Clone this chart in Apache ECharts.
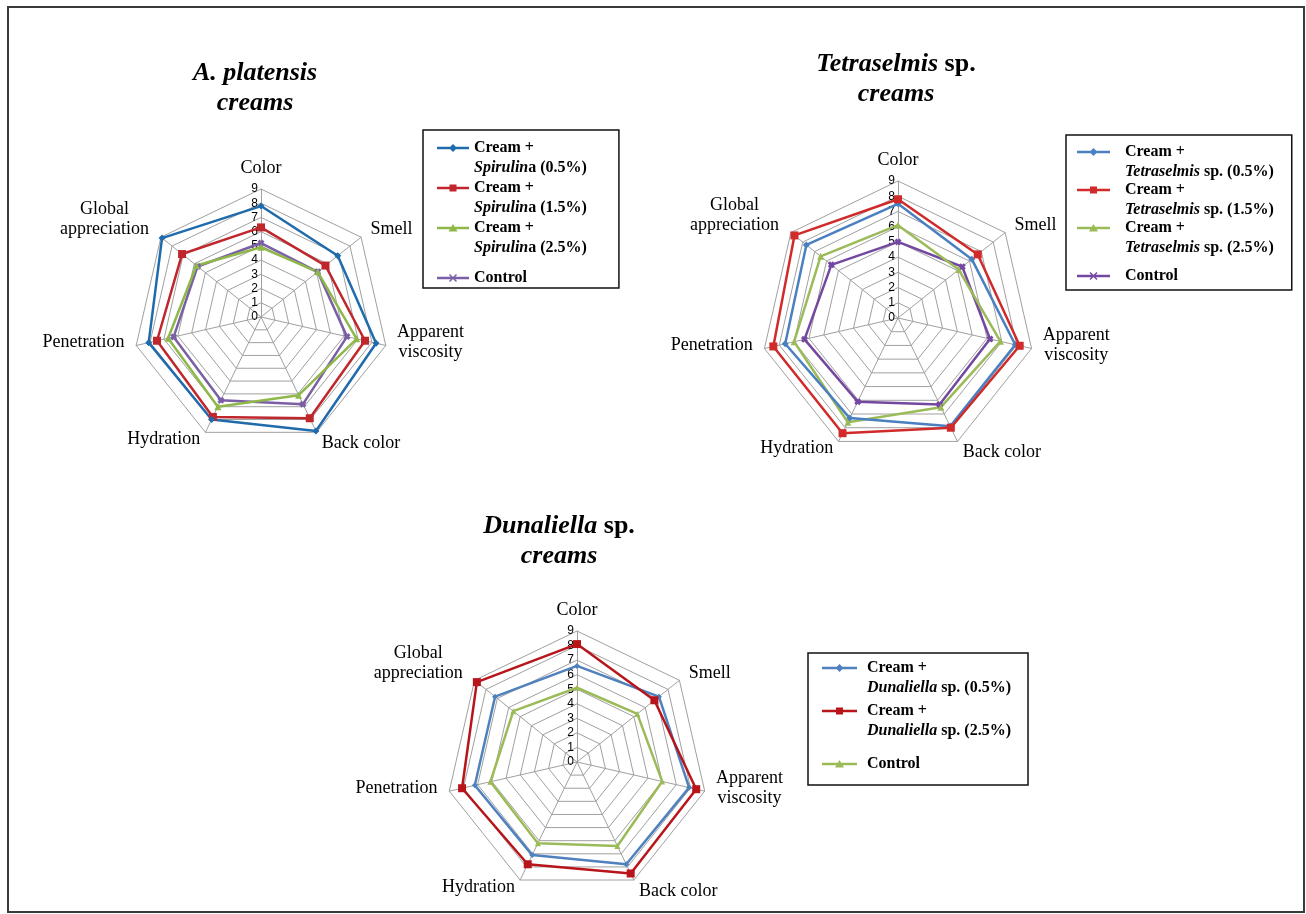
<!DOCTYPE html>
<html>
<head>
<meta charset="utf-8">
<title>Cream sensory profiles</title>
<script src="https://cdn.jsdelivr.net/npm/echarts/dist/echarts.min.js"></script>
<style>
  html, body { margin: 0; padding: 0; background: #fff; }
  #radar-chart { width: 1306px; height: 914px; }
</style>
</head>
<body>
<div id="radar-chart"></div>
<script>
// attributes, clockwise from the top as in the figure
var attributes = ['Color', 'Smell', 'Apparent viscosity', 'Back color', 'Hydration', 'Penetration', 'Global appreciation'];
// score scale
var scaleTicks = [0, 1, 2, 3, 4, 5, 6, 7, 8, 9];

// A. platensis creams
var spirulina05 = [7.8, 6.9, 8.3, 8.9, 8.0, 8.1, 8.9];
var spirulina15 = [6.3, 5.8, 7.5, 7.9, 7.8, 7.5, 7.1];
var spirulina25 = [4.9, 5.1, 6.9, 6.1, 7.0, 6.7, 5.8];
var spirulinaCtrl = [5.2, 5.1, 6.2, 6.8, 6.5, 6.3, 5.7];

// Tetraselmis sp. creams
var tetra05 = [7.5, 6.2, 7.9, 7.9, 7.3, 7.6, 7.7];
var tetra15 = [7.8, 6.7, 8.2, 8.0, 8.4, 8.4, 8.7];
var tetra25 = [6.1, 5.1, 6.9, 6.5, 7.6, 7.0, 6.5];
var tetraCtrl = [5.0, 5.4, 6.2, 6.3, 6.1, 6.3, 5.6];

// Dunaliella sp. creams
var duna05 = [6.6, 7.2, 7.9, 7.8, 7.1, 7.2, 7.2];
var duna25 = [8.1, 6.8, 8.4, 8.5, 7.8, 8.1, 8.8];
var dunaCtrl = [5.1, 5.3, 6.0, 6.4, 6.2, 6.1, 5.6];

var legendText = {
  A05: '{t|Cream +}\n{i|Spirulin}{t|a (0.5%)}',
  A15: '{t|Cream +}\n{i|Spirulin}{t|a (1.5%)}',
  A25: '{t|Cream +}\n{i|Spirulin}{t|a (2.5%)}',
  ACtl: '{t|Control}',
  T05: '{t|Cream +}\n{i|Tetraselmis}{t| sp. (0.5%)}',
  T15: '{t|Cream +}\n{i|Tetraselmis}{t| sp. (1.5%)}',
  T25: '{t|Cream +}\n{i|Tetraselmis}{t| sp. (2.5%)}',
  TCtl: '{t|Control}',
  D05: '{t|Cream +}\n{i|Dunaliella}{t| sp. (0.5%)}',
  D25: '{t|Cream +}\n{i|Dunaliella}{t| sp. (2.5%)}',
  DCtl: '{t|Control}'
};

var serif = 'Liberation Serif';
var crossPath = 'path://M3,0L10,7L7,10L0,3ZM7,0L10,3L3,10L0,7Z';

// echarts lays indicators out counter-clockwise, the figure runs clockwise
function cw(arr) {
  var out = [arr[0]];
  for (var i = arr.length - 1; i > 0; i--) {
    out.push(arr[i]);
  }
  return out;
}

// legend icon: line with the marker, drawn at height lineY inside a w x h box
function legendIcon(marker, w, h, lineY) {
  var c = w / 2, y = lineY, m;
  if (marker === 'diamond') {
    m = 'M' + c + ',' + (y - 4) + 'L' + (c + 4) + ',' + y + 'L' + c + ',' + (y + 4) + 'L' + (c - 4) + ',' + y + 'Z';
  } else if (marker === 'rect') {
    m = 'M' + (c - 3.5) + ',' + (y - 3.5) + 'L' + (c + 3.5) + ',' + (y - 3.5) + 'L' + (c + 3.5) + ',' + (y + 3.5) + 'L' + (c - 3.5) + ',' + (y + 3.5) + 'Z';
  } else if (marker === 'triangle') {
    m = 'M' + c + ',' + (y - 4) + 'L' + (c + 4.5) + ',' + (y + 3.5) + 'L' + (c - 4.5) + ',' + (y + 3.5) + 'Z';
  } else {
    m = 'M' + (c - 3) + ',' + (y - 4) + 'L' + (c + 4) + ',' + (y + 3) + 'L' + (c + 3) + ',' + (y + 4) + 'L' + (c - 4) + ',' + (y - 3) + 'Z' +
        'M' + (c + 3) + ',' + (y - 4) + 'L' + (c + 4) + ',' + (y - 3) + 'L' + (c - 3) + ',' + (y + 4) + 'L' + (c - 4) + ',' + (y + 3) + 'Z';
  }
  var line = 'M0,' + (y - 1.2) + 'L' + w + ',' + (y - 1.2) + 'L' + w + ',' + (y + 1.2) + 'L0,' + (y + 1.2) + 'Z';
  // two empty points keep the box size
  return 'path://' + line + m + 'M0,0L0,0ZM' + w + ',' + h + 'L' + w + ',' + h + 'Z';
}

// names: an empty last line lifts the label a little
var axisNameText = {
  'Apparent viscosity': '{v|Apparent}\n{v|viscosity}\n{s| }',
  'Global appreciation': '{g|Global}\n{g|appreciation}\n{l| }',
  'Penetration': '{n|Penetration}\n{s| }',
  'Hydration': '{n|Hydration}\n{xs| }'
};

function makeRadar(cx, cy, r) {
  var maxVal = scaleTicks[scaleTicks.length - 1];
  return {
    center: [cx, cy],
    radius: r,
    startAngle: 90,
    splitNumber: scaleTicks.length - 1,
    shape: 'polygon',
    nameGap: 12,
    indicator: cw(attributes).map(function (name, i) {
      return { name: name, min: 0, max: maxVal, axisLabel: { show: i === 0 } };
    }),
    axisName: {
      color: '#000',
      fontFamily: serif,
      fontSize: 18,
      formatter: function (name) {
        return axisNameText[name] || name;
      },
      rich: {
        v: { width: 66, align: 'center', fontFamily: serif, fontSize: 18, lineHeight: 20, color: '#000' },
        g: { width: 94, align: 'center', fontFamily: serif, fontSize: 18, lineHeight: 20, color: '#000' },
        n: { fontFamily: serif, fontSize: 18, lineHeight: 20, color: '#000' },
        s: { fontSize: 1, lineHeight: 12 },
        xs: { fontSize: 1, lineHeight: 8 },
        l: { fontSize: 1, lineHeight: 20 }
      }
    },
    axisLine: { lineStyle: { color: '#a0a0a0', width: 1 } },
    splitLine: { lineStyle: { color: '#a0a0a0', width: 1 } },
    splitArea: { show: false },
    axisTick: { show: false },
    axisLabel: {
      show: false,
      color: '#000',
      fontFamily: 'Liberation Sans',
      fontSize: 12,
      margin: 3,
      showMinLabel: true,
      showMaxLabel: true
    }
  };
}

function radarSeries(radarIndex, key, values, color, symbol, size) {
  return {
    type: 'radar',
    radarIndex: radarIndex,
    name: key,
    symbol: symbol,
    symbolSize: size,
    itemStyle: { color: color },
    lineStyle: { color: color, width: 2.5 },
    data: [{ name: key, value: cw(values) }]
  };
}

var legendRich = {
  t: { fontFamily: serif, fontWeight: 'bold', fontSize: 16, lineHeight: 20, color: '#000' },
  i: { fontFamily: serif, fontWeight: 'bold', fontStyle: 'italic', fontSize: 16, lineHeight: 20, color: '#000' }
};

function makeLegend(left, top, padding, iconW, gap, textPad, items) {
  return {
    orient: 'vertical',
    left: left,
    top: top,
    padding: padding,
    itemWidth: iconW,
    itemHeight: 40,
    itemGap: gap,
    selectedMode: false,
    borderColor: '#111',
    borderWidth: 1.5,
    backgroundColor: '#fff',
    data: items.map(function (it) {
      return { name: it[0], icon: legendIcon(it[1], iconW, 40, it[0].indexOf('Ctl') > 0 ? 20 : 10) };
    }),
    formatter: function (name) { return legendText[name]; },
    textStyle: { rich: legendRich, padding: [0, 0, 0, textPad] }
  };
}

var titleRich = {
  bi: { fontFamily: serif, fontWeight: 'bold', fontStyle: 'italic', fontSize: 26, lineHeight: 30, color: '#000' },
  b: { fontFamily: serif, fontWeight: 'bold', fontSize: 26, lineHeight: 30, color: '#000' }
};

var myChart = echarts.init(document.getElementById('radar-chart'));
var option = {
  backgroundColor: '#fff',
  animation: false,
  title: [
    { text: '{bi|A. platensis}\n{bi|creams}', left: 255, top: 58, padding: 0, textAlign: 'center', textStyle: { rich: titleRich } },
    { text: '{bi|Tetraselmis}{b| sp.}\n{bi|creams}', left: 896, top: 49, padding: 0, textAlign: 'center', textStyle: { rich: titleRich } },
    { text: '{bi|Dunaliella}{b| sp.}\n{bi|creams}', left: 559, top: 511, padding: 0, textAlign: 'center', textStyle: { rich: titleRich } }
  ],
  radar: [
    makeRadar(261, 317, 128),
    makeRadar(898, 318, 137),
    makeRadar(577, 762, 131)
  ],
  legend: [
    makeLegend(423, 130, [8, 32, -10, 14], 32, 0, 0, [['A05', 'diamond'], ['A15', 'rect'], ['A25', 'triangle'], ['ACtl', 'cross']]),
    makeLegend(1066, 135, [7, 18, -6, 11], 33, -2, 10, [['T05', 'diamond'], ['T15', 'rect'], ['T25', 'triangle'], ['TCtl', 'cross']]),
    makeLegend(808, 653, [5, 17, 1, 14], 35, 3, 5, [['D05', 'diamond'], ['D25', 'rect'], ['DCtl', 'triangle']])
  ],
  series: [
    radarSeries(0, 'ACtl', spirulinaCtrl, '#7b5fa6', crossPath, 7),
    radarSeries(0, 'A25', spirulina25, '#8fb84a', 'triangle', 7),
    radarSeries(0, 'A15', spirulina15, '#c0272d', 'rect', 8),
    radarSeries(0, 'A05', spirulina05, '#1f6bab', 'diamond', 7),
    radarSeries(1, 'TCtl', tetraCtrl, '#7448a0', crossPath, 7),
    radarSeries(1, 'T25', tetra25, '#9bbb59', 'triangle', 7),
    radarSeries(1, 'T05', tetra05, '#4a7fc0', 'diamond', 7),
    radarSeries(1, 'T15', tetra15, '#d02a2a', 'rect', 8),
    radarSeries(2, 'DCtl', dunaCtrl, '#9bbb59', 'triangle', 6),
    radarSeries(2, 'D05', duna05, '#4f81bd', 'diamond', 6),
    radarSeries(2, 'D25', duna25, '#b8151b', 'rect', 8)
  ],
  graphic: [
    // frame round the whole figure
    {
      type: 'rect',
      shape: { x: 8, y: 7, width: 1296, height: 905 },
      style: { fill: 'none', stroke: '#3a3a3a', lineWidth: 2 },
      silent: true
    }
  ]
};
myChart.setOption(option);
</script>
</body>
</html>
